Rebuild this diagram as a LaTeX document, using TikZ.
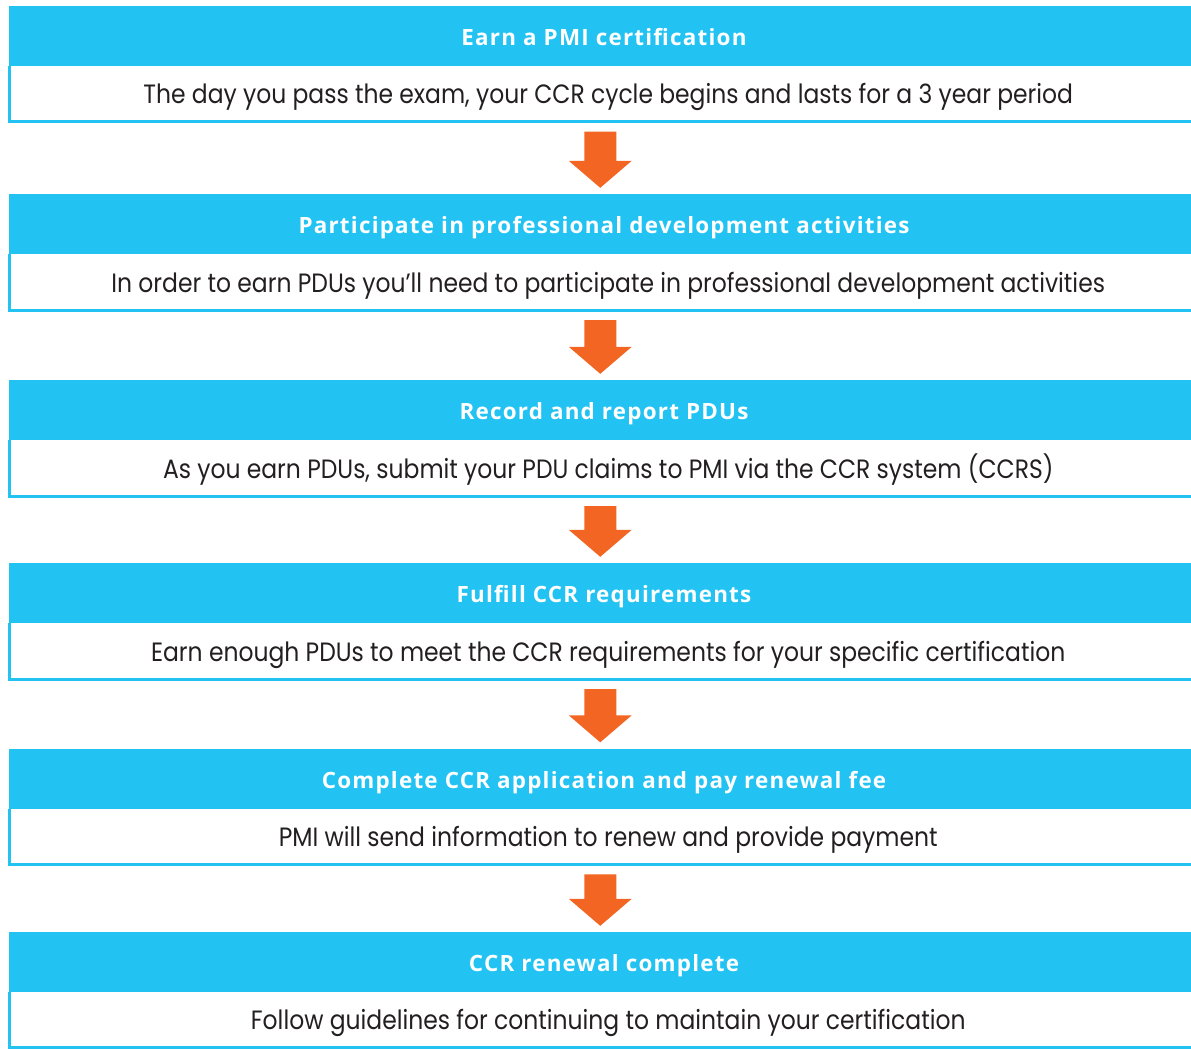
\documentclass[tikz,border=0pt]{standalone}
\usepackage{fontspec}
\setmainfont{Poppins}[FakeStretch=0.885]
\newfontfamily\headfont{Open Sans}[BoldFont={* Bold}, BoldFeatures={LetterSpace=5.5}]
\usetikzlibrary{calc}
\definecolor{pmiblue}{HTML}{22C3F3}
\definecolor{pmiorange}{HTML}{F26522}
\definecolor{pmitext}{HTML}{231F20}
\tikzset{
  header/.style={rectangle, fill=pmiblue, inner sep=0pt, minimum width=1182pt,
    minimum height=60pt, text=white, font=\headfont\bfseries\fontsize{22.4pt}{26pt}\selectfont,
    text height=19.7pt, text depth=0pt, execute at begin node=\hspace*{8pt}},
  bodybox/.style={rectangle, inner sep=0pt, minimum width=1181.5pt,
    minimum height=55.5pt, text=pmitext, font=\fontsize{26.5pt}{30pt}\selectfont,
    text height=20pt, text depth=0pt, execute at begin node=\hspace*{16pt}},
  bordr/.style={draw=pmiblue, line width=3pt},
}
\newcommand\flowarrow[2]{%
  \fill[pmiorange] let \p1=(#1.south), \p2=(#2.north) in
    (\x1-16pt,\y1-10pt) -- (\x1+16pt,\y1-10pt) -- (\x1+16pt,\y2+33pt) --
    (\x1+31.5pt,\y2+33pt) -- (\x1,\y2+6pt) -- (\x1-31.5pt,\y2+33pt) --
    (\x1-16pt,\y2+33pt) -- cycle;}
\begin{document}
\begin{tikzpicture}[x=1pt,y=-1pt]
\useasboundingbox (0,0) rectangle (1191,1049);
% step 1
\node[header] (h1) at (600,36) {Earn a PMI certification};
\node[bodybox] (b1) at (600.25,93.75) {The day you pass the exam, your CCR cycle begins and lasts for a 3 year period};
% step 2
\node[header] (h2) at (600,224) {Participate in professional development activities};
\node[bodybox] (b2) at (600.25,282.25) {In order to earn PDUs you’ll need to participate in professional development activities};
% step 3
\node[header] (h3) at (600,410) {Record and report PDUs};
\node[bodybox] (b3) at (600.25,468.25) {As you earn PDUs, submit your PDU claims to PMI via the CCR system (CCRS)};
% step 4
\node[header] (h4) at (600,593) {Fulfill CCR requirements};
\node[bodybox] (b4) at (600.25,651.25) {Earn enough PDUs to meet the CCR requirements for your specific certification};
% step 5
\node[header] (h5) at (600,778.5) {Complete CCR application and pay renewal fee};
\node[bodybox] (b5) at (600.25,836.5) {PMI will send information to renew and provide payment};
% step 6
\node[header] (h6) at (600,962) {CCR renewal complete};
\node[bodybox] (b6) at (600.25,1019.75) {Follow guidelines for continuing to maintain your certification};
% borders
\foreach \b in {b1,b2,b3,b4,b5,b6}
  \draw[bordr] (\b.north west) -- (\b.south west) -- (\b.south east);
% arrows
\flowarrow{b1}{h2}
\flowarrow{b2}{h3}
\flowarrow{b3}{h4}
\flowarrow{b4}{h5}
\flowarrow{b5}{h6}
\end{tikzpicture}
\end{document}
